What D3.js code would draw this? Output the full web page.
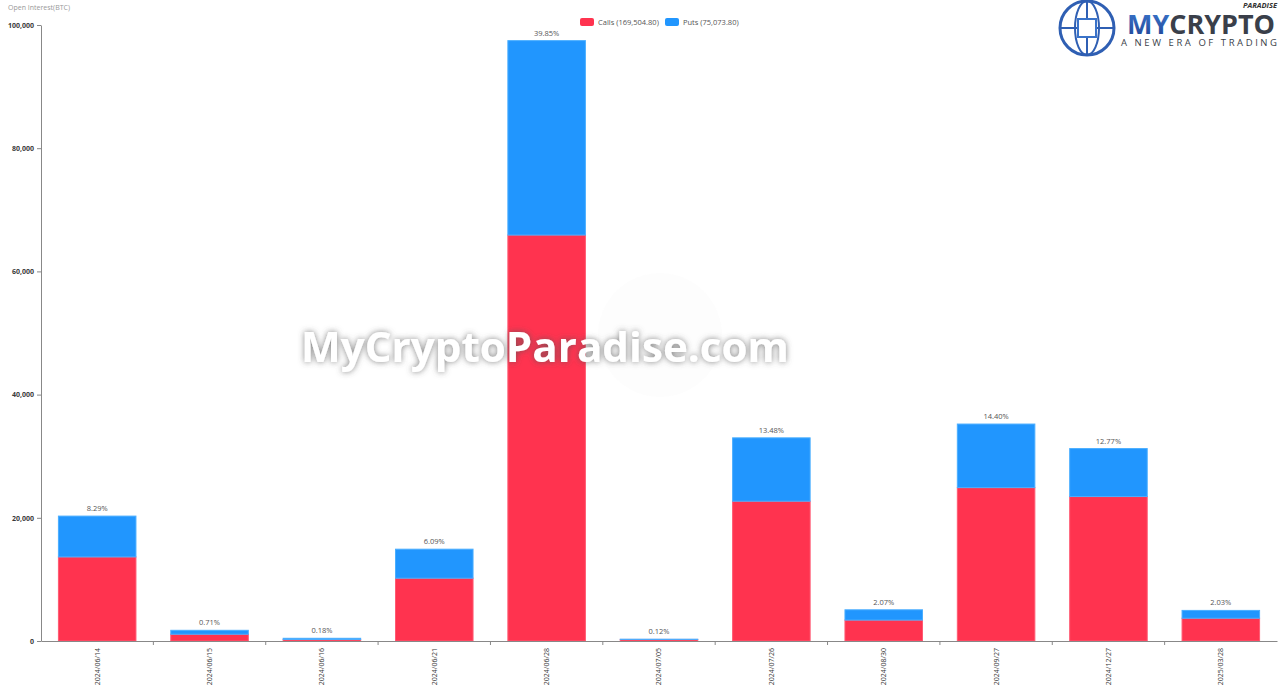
<!DOCTYPE html>
<html>
<head>
<meta charset="utf-8">
<script src="https://cdn.jsdelivr.net/npm/d3@7"></script>
<style>
    body { margin: 0; background: #fff; }
    svg { display: block; font-family: "Open Sans", "DejaVu Sans", sans-serif; }
</style>
</head>
<body>
<div id="chart"></div>
<script>
// expiry dates
var dates = ["2024/06/14", "2024/06/15", "2024/06/16", "2024/06/21", "2024/06/28", "2024/07/05",
    "2024/07/26", "2024/08/30", "2024/09/27", "2024/12/27", "2025/03/28"];
// open interest in BTC
var calls = [13650, 1100, 250, 10200, 65904.8, 250, 22700, 3400, 24900, 23450, 3700];
var puts = [6626, 636, 190, 4705, 31559.2, 43, 10279, 1663, 10319, 7788.6, 1265];
var yTicks = [0, 20000, 40000, 60000, 80000, 100000];

var width = 1280, height = 693;
var margin = {top: 25, right: 3, bottom: 52, left: 41};

var svg = d3.select("#chart").append("svg")
    .attr("width", width)
    .attr("height", height);

var callsTotal = d3.sum(calls), putsTotal = d3.sum(puts), grand = callsTotal + putsTotal;
var fmt2 = d3.format(",.2f");

var x = d3.scaleBand()
    .domain(dates)
    .range([margin.left, width - margin.right])
    .paddingInner(0.31)
    .paddingOuter(0.155);

var y = d3.scaleLinear()
    .domain([0, 100000])
    .range([height - margin.bottom, margin.top]);

// watermark shadow filter
var defs = svg.append("defs");
var f = defs.append("filter").attr("id", "shadow").attr("x", "-10%").attr("y", "-30%").attr("width", "120%").attr("height", "160%");
f.append("feDropShadow").attr("dx", 0).attr("dy", 0).attr("stdDeviation", 3).attr("flood-color", "#555").attr("flood-opacity", 0.75);
var grad = defs.append("linearGradient").attr("id", "mygrad").attr("x1", 0).attr("x2", 0).attr("y1", 0).attr("y2", 1);
grad.append("stop").attr("offset", "0%").attr("stop-color", "#3f7fd6");
grad.append("stop").attr("offset", "100%").attr("stop-color", "#1d3f8f");

// y axis label
svg.append("text")
    .attr("x", 8).attr("y", 10)
    .attr("font-size", 7).attr("fill", "#999")
    .text("Open Interest(BTC)");

// bars
var rows = dates.map(function (d, i) {
    return {date: d, calls: calls[i], puts: puts[i], total: calls[i] + puts[i]};
});

var g = svg.append("g");
g.selectAll(".call")
    .data(rows).enter().append("rect")
    .attr("class", "call")
    .attr("x", function (d) { return x(d.date); })
    .attr("width", x.bandwidth())
    .attr("y", function (d) { return y(d.calls); })
    .attr("height", function (d) { return y(0) - y(d.calls); })
    .attr("fill", "#ff334f")
    .attr("stroke", "#ff5a72").attr("stroke-width", 1);

g.selectAll(".put")
    .data(rows).enter().append("rect")
    .attr("class", "put")
    .attr("x", function (d) { return x(d.date); })
    .attr("width", x.bandwidth())
    .attr("y", function (d) { return y(d.total); })
    .attr("height", function (d) { return y(d.calls) - y(d.total); })
    .attr("fill", "#2196fe")
    .attr("stroke", "#4aaeff").attr("stroke-width", 1);

g.selectAll(".pct")
    .data(rows).enter().append("text")
    .attr("class", "pct")
    .attr("x", function (d) { return x(d.date) + x.bandwidth() / 2; })
    .attr("y", function (d) { return y(d.total) - 5; })
    .attr("text-anchor", "middle")
    .attr("font-size", 7.5).attr("fill", "#555")
    .text(function (d) { return (d.total / grand * 100).toFixed(2) + "%"; });

// y axis
var yAxis = svg.append("g")
    .attr("transform", "translate(" + margin.left + ",0)")
    .call(d3.axisLeft(y).tickValues(yTicks).tickSize(4).tickSizeOuter(0).tickFormat(d3.format(",")));
yAxis.select(".domain").attr("stroke", "#888");
yAxis.selectAll(".tick line").attr("stroke", "#888");
yAxis.selectAll(".tick text").attr("font-size", 7).attr("font-weight", "bold").attr("fill", "#3a3a3a")
    .attr("font-family", "\"Open Sans\", sans-serif");

// x axis
var xAxis = svg.append("g")
    .attr("transform", "translate(0," + y(0) + ")")
    .call(d3.axisBottom(x).tickSize(0).tickSizeOuter(0));
xAxis.select(".domain").attr("stroke", "#888");
xAxis.selectAll(".tick text")
    .attr("font-size", 7).attr("fill", "#3a3a3a").attr("font-family", "\"Open Sans\", sans-serif")
    .attr("transform", "rotate(-90)")
    .attr("text-anchor", "end")
    .attr("x", -7).attr("y", 0).attr("dy", "0.35em");
xAxis.selectAll(".sep")
    .data(d3.range(1, dates.length)).enter().append("line")
    .attr("class", "sep")
    .attr("x1", function (i) { return x.range()[0] + i * x.step(); })
    .attr("x2", function (i) { return x.range()[0] + i * x.step(); })
    .attr("y1", 0).attr("y2", 4)
    .attr("stroke", "#888");

// legend
var legend = svg.append("g").attr("transform", "translate(580,22)");
var items = [
    {name: "Calls (" + fmt2(callsTotal) + ")", color: "#ff334f", x: 0},
    {name: "Puts (" + fmt2(putsTotal) + ")", color: "#2196fe", x: 85}
];
items.forEach(function (it) {
    legend.append("rect").attr("x", it.x).attr("y", -4).attr("width", 14).attr("height", 8)
        .attr("rx", 2).attr("fill", it.color);
    legend.append("text").attr("x", it.x + 18).attr("y", 0).attr("dy", "0.35em")
        .attr("font-size", 7.5).attr("fill", "#555").text(it.name);
});

// watermark
svg.append("circle").attr("cx", 660).attr("cy", 335).attr("r", 62)
    .attr("fill", "#fafaf7").attr("opacity", 0.3);
svg.append("text")
    .attr("x", 545).attr("y", 362)
    .attr("text-anchor", "middle")
    .attr("font-size", 41).attr("font-weight", "bold")
    .attr("font-family", "\"Open Sans\", sans-serif")
    .attr("fill", "#fff")
    .attr("filter", "url(#shadow)")
    .attr("textLength", 488).attr("lengthAdjust", "spacingAndGlyphs")
    .text("MyCryptoParadise.com");

// logo
var logo = svg.append("g");
logo.append("circle").attr("cx", 1087).attr("cy", 28).attr("r", 27)
    .attr("fill", "none").attr("stroke", "#2f5fb3").attr("stroke-width", 3);
logo.append("ellipse").attr("cx", 1087).attr("cy", 28).attr("rx", 12).attr("ry", 27)
    .attr("fill", "none").attr("stroke", "#2f5fb3").attr("stroke-width", 2);
logo.append("line").attr("x1", 1060).attr("x2", 1114).attr("y1", 28).attr("y2", 28)
    .attr("stroke", "#2f5fb3").attr("stroke-width", 2);
logo.append("line").attr("x1", 1087).attr("x2", 1087).attr("y1", 1).attr("y2", 55)
    .attr("stroke", "#2f5fb3").attr("stroke-width", 2);
logo.append("rect").attr("x", 1078).attr("y", 19).attr("width", 18).attr("height", 18)
    .attr("fill", "#fff").attr("stroke", "#3a73c9").attr("stroke-width", 2);
logo.append("text").attr("x", 1127).attr("y", 34)
    .attr("font-size", 27).attr("font-weight", "bold")
    .attr("font-family", "\"Open Sans\", sans-serif")
    .attr("textLength", 148).attr("lengthAdjust", "spacingAndGlyphs")
    .call(function (t) {
        t.append("tspan").attr("fill", "url(#mygrad)").text("MY");
        t.append("tspan").attr("fill", "#3a3f4a").text("CRYPTO");
    });
logo.append("text").attr("x", 1277).attr("y", 8).attr("text-anchor", "end")
    .attr("font-size", 7.5).attr("font-weight", "bold").attr("font-style", "italic")
    .attr("fill", "#333").text("PARADISE");
logo.append("text").attr("x", 1121).attr("y", 46)
    .attr("font-size", 9.5).attr("fill", "#3a3f4a")
    .attr("textLength", 156).attr("lengthAdjust", "spacing")
    .text("A NEW ERA OF TRADING");
</script>
</body>
</html>
